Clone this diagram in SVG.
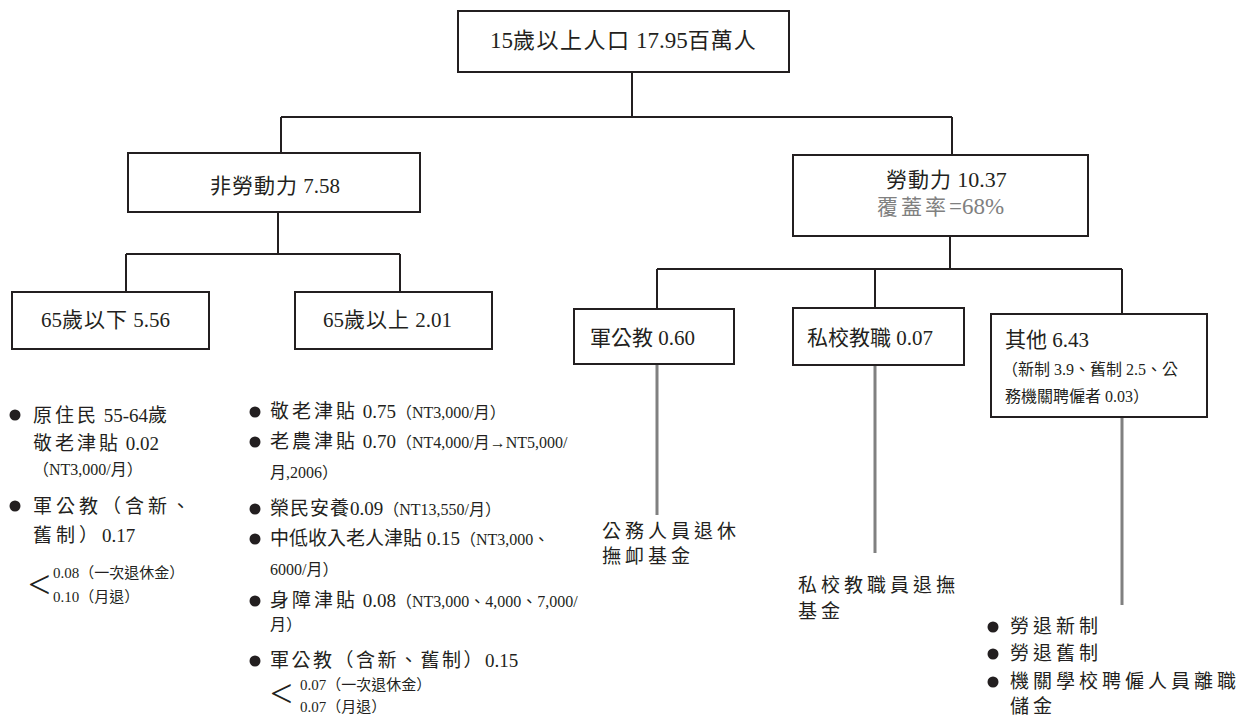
<svg xmlns="http://www.w3.org/2000/svg" width="1250" height="727" viewBox="0 0 1250 727">
<style>
.box{fill:#fff;stroke:#231f20;stroke-width:2}
.ln{fill:none;stroke:#231f20;stroke-width:2}
.gl{fill:none;stroke:#808080;stroke-width:3}
text{font-family:"Liberation Serif","Noto Sans CJK TC",serif;fill:#231f20}
.n{font-size:21px}
.b{font-size:19px}
.s{font-size:16px}
.xs{font-size:15px}
.c{letter-spacing:3px}
.cw{letter-spacing:4px}
.g{fill:#808080}
.lt{font-size:40px}
</style>
<g id="connectors">
<path class="ln" d="M632 72V117M281 117H952M281 117V153M952 117V155"/>
<path class="ln" d="M278 212V254M126 254H400M126 254V292M400 254V292"/>
<path class="ln" d="M950 236V269M657 269H1122M657 269V309M875 269V308M1122 269V314"/>
<path class="gl" d="M657 364V515M875 365V553M1122 417V605"/>
</g>
<g id="n-top">
<rect class="box" x="458" y="11" width="331" height="61"/>
<text x="490" y="48" style="font-size:22px"><tspan style="font-size:23px">15</tspan><tspan style="letter-spacing:1.5px">歲以上人口</tspan> <tspan style="font-size:23px">17.95</tspan><tspan style="letter-spacing:1px">百萬人</tspan></text>
</g>
<g id="n-nonlabor">
<rect class="box" x="128" y="153" width="292" height="59"/>
<text class="n" x="210" y="193"><tspan style="letter-spacing:1px">非勞動力</tspan> 7.58</text>
</g>
<g id="n-under65">
<rect class="box" x="12" y="292" width="197" height="57"/>
<text class="n" x="41" y="327">65<tspan style="letter-spacing:1px">歲以下</tspan> 5.56</text>
</g>
<g id="n-over65">
<rect class="box" x="295" y="292" width="197" height="57"/>
<text class="n" x="323" y="327">65<tspan style="letter-spacing:1px">歲以上</tspan> 2.01</text>
</g>
<g id="n-labor">
<rect class="box" x="793" y="155" width="295" height="81"/>
<text class="n" x="886" y="187"><tspan style="letter-spacing:1px">勞動力</tspan> <tspan style="font-size:22px">10.37</tspan></text>
<text class="n g" x="877" y="214"><tspan class="c">覆蓋率</tspan><tspan style="font-size:23px">=68%</tspan></text>
</g>
<g id="n-mil">
<rect class="box" x="574" y="309" width="160" height="55"/>
<text class="n" x="590" y="345">軍公教 0.60</text>
</g>
<g id="n-private">
<rect class="box" x="793" y="308" width="171" height="57"/>
<text class="n" x="807" y="345">私校教職 0.07</text>
</g>
<g id="n-other">
<rect class="box" x="991" y="314" width="216" height="103"/>
<text class="n" x="1005" y="347">其他 6.43</text>
<text style="font-size:16px" x="1002" y="375">（新制 3.9、舊制 2.5、公</text>
<text style="font-size:16px" x="1005" y="402">務機關聘僱者 0.03）</text>
</g>
<g id="list-under65">
<circle cx="15" cy="415" r="5.5" fill="#231f20"/>
<text class="b" x="33" y="422"><tspan class="c">原住民</tspan> 55-64歲</text>
<text class="b" x="33" y="450"><tspan class="c">敬老津貼</tspan> 0.02</text>
<text class="s" x="33" y="475">（NT3,000/月）</text>
<circle cx="15" cy="506" r="5.5" fill="#231f20"/>
<text class="b cw" x="33" y="513">軍公教（含新、</text>
<text class="b" x="33" y="542"><tspan class="cw">舊制）</tspan>0.17</text>
<text class="lt" x="28" y="598">&lt;</text>
<text class="xs" x="53" y="578">0.08（一次退休金）</text>
<text class="xs" x="53" y="602">0.10（月退）</text>
</g>
<g id="list-over65">
<circle cx="255" cy="412" r="5.5" fill="#231f20"/>
<text class="b" x="270" y="418"><tspan class="c">敬老津貼</tspan> 0.75<tspan class="s">（NT3,000/月）</tspan></text>
<circle cx="255" cy="442" r="5.5" fill="#231f20"/>
<text class="b" x="270" y="448"><tspan class="c">老農津貼</tspan> 0.70<tspan class="s">（NT4,000/月→NT5,000/</tspan></text>
<text class="s" x="270" y="478">月,2006）</text>
<circle cx="255" cy="509" r="5.5" fill="#231f20"/>
<text class="b" x="270" y="515"><tspan style="letter-spacing:1px">榮民安養</tspan>0.09<tspan class="s">（NT13,550/月）</tspan></text>
<circle cx="255" cy="539" r="5.5" fill="#231f20"/>
<text class="b" x="270" y="545">中低收入老人津貼 0.15<tspan class="s">（NT3,000、</tspan></text>
<text class="s" x="270" y="575">6000/月）</text>
<circle cx="255" cy="601" r="5.5" fill="#231f20"/>
<text class="b" x="270" y="607"><tspan class="c">身障津貼</tspan> 0.08<tspan class="s">（NT3,000、4,000、7,000/</tspan></text>
<text class="s" x="270" y="630">月）</text>
<circle cx="255" cy="661" r="5.5" fill="#231f20"/>
<text class="b" x="270" y="667"><tspan style="letter-spacing:2.5px">軍公教（含新、舊制）</tspan>0.15</text>
<text class="lt" x="270" y="707">&lt;</text>
<text class="xs" x="300" y="690">0.07（一次退休金）</text>
<text class="xs" x="300" y="712">0.07（月退）</text>
</g>
<g id="l-mil">
<text class="b cw" x="602" y="538">公務人員退休</text>
<text class="b cw" x="602" y="563">撫卹基金</text>
</g>
<g id="l-private">
<text class="b cw" x="798" y="592">私校教職員退撫</text>
<text class="b cw" x="798" y="618">基金</text>
</g>
<g id="list-other">
<circle cx="993" cy="627" r="5.5" fill="#231f20"/>
<text class="b cw" x="1010" y="633">勞退新制</text>
<circle cx="993" cy="654" r="5.5" fill="#231f20"/>
<text class="b cw" x="1010" y="660">勞退舊制</text>
<circle cx="993" cy="682" r="5.5" fill="#231f20"/>
<text class="b cw" x="1010" y="688">機關學校聘僱人員離職</text>
<text class="b cw" x="1010" y="713">儲金</text>
</g>
</svg>
